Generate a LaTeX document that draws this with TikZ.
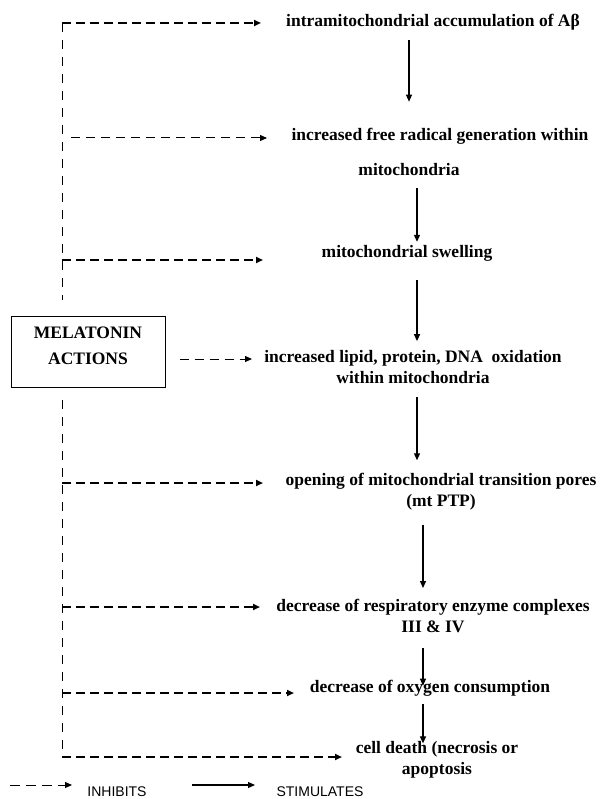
\documentclass[tikz,border=0pt]{standalone}
\usepackage{fontspec}
\setmainfont{Liberation Serif}
\setsansfont{Liberation Sans}
\usetikzlibrary{arrows.meta}
\begin{document}
\begin{tikzpicture}[x=1pt,y=-1pt,
  lbl/.style={font=\bfseries\fontsize{17.5}{21}\selectfont, inner sep=0pt, align=center},
  legtxt/.style={font=\sffamily\fontsize{14}{16}\selectfont, inner sep=0pt},
  stim/.style={line width=1.2pt, -{Triangle[length=7pt,width=6pt]}},
  inhbold/.style={line width=1.8pt, dash pattern=on 9pt off 5pt, -{Triangle[length=7pt,width=6pt]}},
  inhthin/.style={line width=1pt, dash pattern=on 9pt off 6pt, -{Triangle[length=7pt,width=6pt]}},
  vline/.style={line width=1pt, dash pattern=on 9pt off 8pt},
  mbox/.style={draw, line width=1pt, minimum width=154pt, minimum height=71pt, align=center,
    font=\bfseries\fontsize{17.5}{21}\selectfont, inner sep=0pt}
]
\useasboundingbox (0,0) rectangle (600,799);

% text nodes
\node[lbl] (a1) at (433,22) {intramitochondrial accumulation of Aβ};
\node[lbl] (a2) at (440,136) {increased free radical generation within};
\node[lbl] (a2m) at (409,170) {mitochondria};
\node[lbl] (a3) at (407,253) {mitochondrial swelling};
\node[lbl] (a4) at (413,367) {increased lipid, protein, DNA\ \ oxidation\\within mitochondria};
\node[lbl] (a5) at (441,492) {opening of mitochondrial transition pores\\(mt PTP)};
\node[lbl] (a6) at (433,616) {decrease of respiratory enzyme complexes\\III \& IV};
\node[lbl] (a7) at (430,688) {decrease of oxygen consumption};
\node[lbl] (a8) at (437,760) {cell death (necrosis or\\apoptosis};

\node[mbox] (mel) at (88,352) {MELATONIN\\[5pt]ACTIONS\\[-9pt]\mbox{}};

% columns for the solid arrows
\coordinate (c1) at (409,0);
\coordinate (c2) at (417,0);
\coordinate (c3) at (423,0);

\draw[stim] ([yshift=-10pt]a1.south -| c1) -- ([yshift=26pt]a2.north -| c1);
\draw[stim] ([yshift=-12pt]a2m.south -| c2) -- ([yshift=3pt]a3.north -| c2);
\draw[stim] ([yshift=-19pt]a3.south -| c2) -- ([yshift=9pt]a4.north -| c2);
\draw[stim] ([yshift=-13pt]a4.south -| c2) -- ([yshift=13pt]a5.north -| c2);
\draw[stim] ([yshift=-14pt]a5.south -| c3) -- ([yshift=11pt]a6.north -| c3);
\draw[stim] ([yshift=-15pt]a6.south -| c3) -- ([yshift=-6pt]a7.north -| c3);
\draw[stim] ([yshift=-8pt]a7.south -| c3) -- ([yshift=-2pt]a8.north -| c3);

% vertical dashed line
\coordinate (vt) at (62,23);
\coordinate (vb) at (62,757);
\coordinate (g1) at (62,300);
\coordinate (g2) at (62,400);
\draw[vline] (vt) -- (g1);
\draw[vline] (g2) -- (vb);

% inhibition arrow ends
\coordinate (e1) at (261,23);
\coordinate (s2) at (71,138);
\coordinate (e2) at (267,138);
\coordinate (e3) at (263,260);
\coordinate (e4) at (252,359);
\coordinate (e5) at (263,483);
\coordinate (e6) at (260,607);
\coordinate (e7) at (294,693);
\coordinate (e8) at (342,757);

\draw[inhbold] (vt) -- (e1);
\draw[inhthin] (s2) -- (e2);
\draw[inhbold] (vt |- e3) -- (e3);
\draw[inhthin] ([xshift=14pt]mel.east |- e4) -- (e4);
\draw[inhbold] (vt |- e5) -- (e5);
\draw[inhbold] (vt |- e6) -- (e6);
\draw[inhbold] (vt |- e7) -- (e7);
\draw[inhbold] (vb) -- (e8);

% legend
\coordinate (l1s) at (10,785);
\coordinate (l1e) at (72,785);
\coordinate (l2s) at (192,785);
\coordinate (l2e) at (255,785);
\draw[inhthin, dash pattern=on 10pt off 6pt] (l1s) -- (l1e);
\draw[stim] (l2s) -- (l2e);
\node[legtxt] (linh) at (117,792) {INHIBITS};
\node[legtxt] (lsti) at (320,792) {STIMULATES};
\end{tikzpicture}
\end{document}
